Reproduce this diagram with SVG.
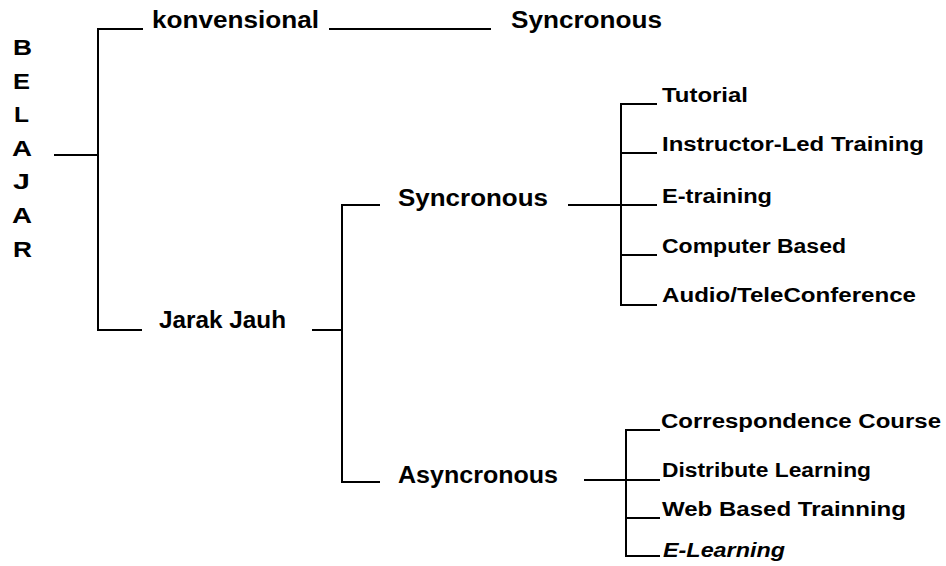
<svg xmlns="http://www.w3.org/2000/svg" width="946" height="566" viewBox="0 0 946 566">
<style>
text{font-family:"Liberation Sans",Arial,sans-serif;font-weight:bold;fill:#000}
.big{font-size:23.5px}
.let{font-size:22px}
.sm{font-size:19.5px}
.ln{stroke:#000;stroke-width:2;fill:none}
</style>
<rect width="946" height="566" fill="#fff"/>
<g id="belajar">
<text class="let" x="13" y="55" textLength="19" lengthAdjust="spacingAndGlyphs">B</text>
<text class="let" x="13" y="89" textLength="17" lengthAdjust="spacingAndGlyphs">E</text>
<text class="let" x="14" y="122" textLength="15" lengthAdjust="spacingAndGlyphs">L</text>
<text class="let" x="12" y="156" textLength="20" lengthAdjust="spacingAndGlyphs">A</text>
<text class="let" x="13" y="189" textLength="17" lengthAdjust="spacingAndGlyphs">J</text>
<text class="let" x="12" y="223" textLength="20" lengthAdjust="spacingAndGlyphs">A</text>
<text class="let" x="13" y="257" textLength="19" lengthAdjust="spacingAndGlyphs">R</text>
</g>
<g id="konvensional"><text class="big" x="152" y="28" textLength="167" lengthAdjust="spacingAndGlyphs">konvensional</text></g>
<g id="syncronous-konv"><text class="big" x="511" y="28" textLength="151" lengthAdjust="spacingAndGlyphs">Syncronous</text></g>
<g id="jarak-jauh"><text class="big" x="159" y="328" textLength="127" lengthAdjust="spacingAndGlyphs">Jarak Jauh</text></g>
<g id="syncronous"><text class="big" x="398" y="206" textLength="150" lengthAdjust="spacingAndGlyphs">Syncronous</text></g>
<g id="asyncronous"><text class="big" x="398" y="483" textLength="160" lengthAdjust="spacingAndGlyphs">Asyncronous</text></g>
<g id="tutorial"><text class="sm" x="662" y="102" textLength="86" lengthAdjust="spacingAndGlyphs">Tutorial</text></g>
<g id="instructor"><text class="sm" x="662" y="151" textLength="262" lengthAdjust="spacingAndGlyphs">Instructor-Led Training</text></g>
<g id="etraining"><text class="sm" x="662" y="203" textLength="110" lengthAdjust="spacingAndGlyphs">E-training</text></g>
<g id="computer"><text class="sm" x="662" y="253" textLength="184" lengthAdjust="spacingAndGlyphs">Computer Based</text></g>
<g id="audio"><text class="sm" x="662" y="302" textLength="254" lengthAdjust="spacingAndGlyphs">Audio/TeleConference</text></g>
<g id="correspondence"><text class="sm" x="661" y="428" textLength="280" lengthAdjust="spacingAndGlyphs">Correspondence Course</text></g>
<g id="distribute"><text class="sm" x="662" y="477" textLength="209" lengthAdjust="spacingAndGlyphs">Distribute Learning</text></g>
<g id="web"><text class="sm" x="662" y="516" textLength="244" lengthAdjust="spacingAndGlyphs">Web Based Trainning</text></g>
<g id="elearning"><text class="sm" x="663" y="557" font-style="italic" textLength="122" lengthAdjust="spacingAndGlyphs">E-Learning</text></g>
<g id="connectors" class="ln">
<path class="ln" d="M54 155H98M143 29H98V330H142"/>
<path class="ln" d="M329 29H491"/>
<path class="ln" d="M312 330H342M380 205H342V482H380"/>
<path class="ln" d="M568 205H657M657 104H621V305H657M621 153H657M621 255H657"/>
<path class="ln" d="M584 480H660M660 430H626V556H660M626 518H660"/>
</g>
</svg>
